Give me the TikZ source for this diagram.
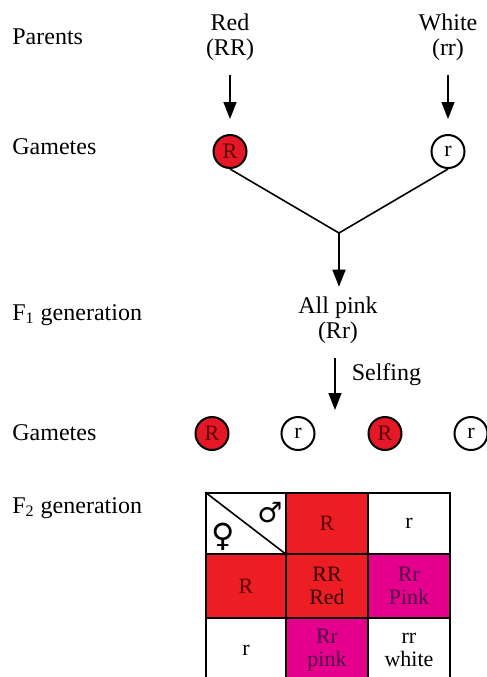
\documentclass[tikz,border=0pt]{standalone}
\usepackage{fontspec}
\setmainfont{Liberation Serif}
\newfontfamily\signfont{DejaVu Sans}
\usepackage{tikz}
\usetikzlibrary{arrows.meta,calc,positioning}

\definecolor{gamred}{RGB}{228,24,38}
\definecolor{cellred}{RGB}{236,30,36}
\definecolor{cellpink}{RGB}{228,0,140}
\definecolor{txtred}{RGB}{90,0,0}
\definecolor{txtpink}{RGB}{80,0,70}

\begin{document}
\begin{tikzpicture}[x=0.5pt, y=0.5pt, every node/.style={inner sep=1pt},
    font=\fontsize{12}{12.5}\selectfont,
    gamR/.style={circle, draw, line width=1pt, fill=gamred, minimum size=16.5pt,
        inner sep=0pt, font=\fontsize{11}{11}\selectfont},
    gamr/.style={gamR, fill=white},
    cell/.style={draw, line width=0.8pt, minimum width=41pt, minimum height=32pt,
        inner sep=0pt, align=center, font=\fontsize{11}{11.5}\selectfont},
    arr/.style={-{Triangle[length=8.5pt,width=6.5pt]}, line width=0.8pt} ]

    \clip (0,0) rectangle (487,-677);

    % Row labels.
    \node[anchor=west] (lpar) at (10,-37) {Parents};
    \node[anchor=west] (lgam1) at (10,-147) {Gametes};
    \node[anchor=west] (lf1) at (10,-315) {F\textsubscript{1} generation};
    \node[anchor=west] (lgam2) at (10,-433) {Gametes};
    \node[anchor=west] (lf2) at (10,-508) {F\textsubscript{2} generation};

    % Parents and their gametes.
    \node[align=center] (pred) at (230,-37) {Red\\(RR)};
    \node[align=center] (pwhite) at (448,-37) {White\\(rr)};
    \node[gamR, text=txtred] (gR) at (230,-151.5) {R};
    \node[gamr] (gr) at (448,-151.5) {r};
    \draw[arr, shorten <=6pt, shorten >=7.5pt] (pred) -- (gR);
    \draw[arr, shorten <=6pt, shorten >=7.5pt] (pwhite) -- (gr);

    % Cross.
    \coordinate (join) at (339,-233);
    \draw[line width=0.8pt] (gR.south) -- (join) -- (gr.south);

    \node[align=center] (f1) at (338,-320) {All pink\\(Rr)};
    \draw[arr, shorten >=3.75pt] (join) -- (join |- f1.north);

    % Selfing.
    \coordinate (self) at (335,-410);
    \draw[arr, shorten <=6pt] (f1.south -| self) -- (self)
        node[pos=0.45, right=7pt] (selfing) {Selfing};

    \node[gamR, text=txtred] (g2a) at (212,-433.5) {R};
    \node[gamr] (g2b) at (298,-433.5) {r};
    \node[gamR, text=txtred] (g2c) at (385,-433.5) {R};
    \node[gamr] (g2d) at (471,-433.5) {r};

    % Checker board.
    \node[cell, minimum width=40pt, minimum height=30.5pt] (c11) at (246,-523.5) {};
    \node[cell, minimum height=30.5pt, fill=cellred, text=txtred] (c12) at (327,-523.5) {R};
    \node[cell, minimum height=30.5pt] (c13) at (409,-523.5) {r};

    \node[cell, minimum width=40pt, fill=cellred, text=txtred] (c21) at (246,-586) {R};
    \node[cell, fill=cellred, text=txtred!60!black] (c22) at (327,-586) {RR\\Red};
    \node[cell, fill=cellpink, text=txtpink] (c23) at (409,-586) {Rr\\Pink};

    \node[cell, minimum width=40pt] (c31) at (246,-650) {r};
    \node[cell, fill=cellpink, text=txtpink] (c32) at (327,-650) {Rr\\pink};
    \node[cell] (c33) at (409,-650) {rr\\white};

    \draw[line width=0.8pt] (c11.north west) -- (c11.south east);
    \node[inner sep=0pt, font={\signfont\fontsize{16}{16}\selectfont}] (fem) at (223,-537) {♀};
    \node[inner sep=0pt, font={\signfont\fontsize{14}{14}\selectfont}] (mal) at (270,-513) {♂};

\end{tikzpicture}
\end{document}
